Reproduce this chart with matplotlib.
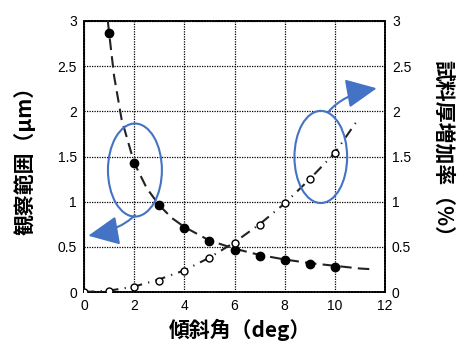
import matplotlib
matplotlib.use("Agg")
import matplotlib.pyplot as plt
from matplotlib.patches import Ellipse, FancyArrowPatch

plt.rcParams['font.family'] = ['Liberation Sans', 'Noto Sans CJK JP', 'DejaVu Sans']

# Observation range (um) vs tilt angle
tilt = [1, 2, 3, 4, 5, 6, 7, 8, 9, 10]
obs_range = [2.87, 1.43, 0.96, 0.71, 0.57, 0.47, 0.40, 0.355, 0.31, 0.28]
# dashed fit curve
fit_obs_x = [0.95, 1.0, 1.2, 1.5, 2.0, 2.5, 3.0, 3.5, 4.0, 5.0, 6.0, 7.0, 8.0, 9.0, 10.0, 11.0, 11.6]
fit_obs_y = [3.0, 2.87, 2.39, 1.91, 1.43, 1.15, 0.96, 0.82, 0.72, 0.57, 0.48, 0.41, 0.36, 0.32, 0.29, 0.26, 0.25]

# Sample thickness increase (%) vs tilt angle
tilt2 = [0, 1, 2, 3, 4, 5, 6, 7, 8, 9, 10]
thick_inc = [0.0, 0.01, 0.05, 0.125, 0.235, 0.38, 0.546, 0.74, 0.98, 1.25, 1.535]
fit_th_x = [0, 1, 2, 3, 4, 5, 6, 7, 8, 9, 10, 10.9]
fit_th_y = [0, 0.015, 0.06, 0.14, 0.24, 0.38, 0.55, 0.75, 0.98, 1.25, 1.54, 1.9]

xticks = [0, 2, 4, 6, 8, 10, 12]
yticks = [0, 0.5, 1, 1.5, 2, 2.5, 3]
ytick_labels = ['0', '0.5', '1', '1.5', '2', '2.5', '3']

fig = plt.figure(figsize=(4.57, 3.42), dpi=100)
ax = fig.add_axes([84/457, 1-292/342, (385-84)/457, (292-21)/342])
ax.set_xlim(0, 12)
ax.set_ylim(0, 3)
ax.set_xticks(xticks)
ax.set_yticks(yticks)
ax.set_yticklabels(ytick_labels)
ax.tick_params(length=0, labelsize=10, pad=5)
ax.grid(True, color='black', linestyle=(0, (1, 1)), linewidth=0.9)
for s in ax.spines.values():
    s.set_linestyle((0, (1, 0.6)))
    s.set_linewidth(1.3)
    s.set_color('black')

blue = '#4472C4'

ax.plot(fit_obs_x, fit_obs_y, color='#222222', lw=1.5, dashes=(5.5, 3), zorder=3)
ax.plot(tilt, obs_range, 'o', color='black', markersize=6, zorder=4)
ax.plot(fit_th_x, fit_th_y, color='#222222', lw=1.5, dashes=(5, 3, 0.6, 3), zorder=3)
ax.plot(tilt2, thick_inc, 'o', markerfacecolor='white', markeredgecolor='black',
        markersize=5, markeredgewidth=1, zorder=4)

ax.add_patch(Ellipse((2.03, 1.35), 2.15, 1.03, fill=False, edgecolor=blue, lw=1.5, zorder=5))
ax.add_patch(Ellipse((9.44, 1.495), 2.1, 1.02, fill=False, edgecolor=blue, lw=1.5, zorder=5))

a1 = FancyArrowPatch((2.03, 0.85), (0.17, 0.623), connectionstyle='angle3,angleA=45,angleB=10',
                     arrowstyle='-|>,head_length=19,head_width=9', mutation_scale=1,
                     color=blue, lw=1.5, zorder=6, clip_on=False, shrinkA=0, shrinkB=0)
ax.add_patch(a1)
a2 = FancyArrowPatch((9.73, 1.99), (11.67, 2.255), connectionstyle='angle3,angleA=50,angleB=10',
                     arrowstyle='-|>,head_length=19,head_width=9', mutation_scale=1,
                     color=blue, lw=1.5, zorder=6, clip_on=False, shrinkA=0, shrinkB=0)
ax.add_patch(a2)

ax2 = ax.twinx()
ax2.set_ylim(0, 3)
ax2.set_yticks(yticks)
ax2.set_yticklabels(ytick_labels)
ax2.tick_params(length=0, labelsize=10, pad=5)
for s in ax2.spines.values():
    s.set_visible(False)

fig.text(240/457, 1-330/342, '傾斜角（deg）', ha='center', va='center', fontsize=15,
         fontweight='bold', family=['Noto Sans CJK JP', 'DejaVu Sans'])
fig.text(25/457, 1-155/342, '観察範囲（μm）', ha='center', va='center', fontsize=15,
         fontweight='bold', rotation=90, family=['Noto Sans CJK JP', 'DejaVu Sans'])
fig.text(443/457, 1-154/342, '試料厚増加率（%）', ha='center', va='center', fontsize=15,
         fontweight='bold', rotation=-90, family=['Noto Sans CJK JP', 'DejaVu Sans'])

fig.savefig('out.png', dpi=100)
